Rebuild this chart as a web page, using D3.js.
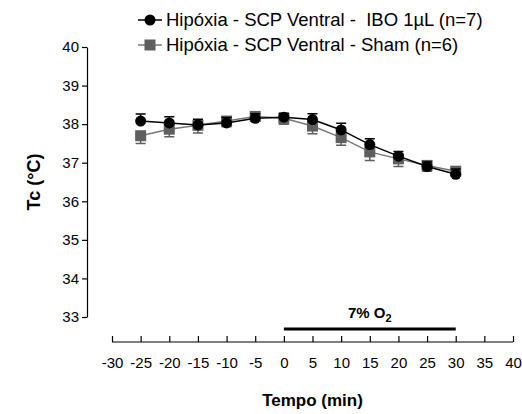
<!DOCTYPE html>
<html>
<head>
<meta charset="utf-8">
<script src="https://cdn.jsdelivr.net/npm/d3@7"></script>
<style>
  body { margin: 0; background: #fff; }
  text { font-family: "Liberation Sans", Arial, sans-serif; }
</style>
</head>
<body>
<svg id="svg1" width="522" height="414"></svg>
<script>
// time points (min)
const tempo = [-25, -20, -15, -10, -5, 0, 5, 10, 15, 20, 25, 30];
// IBO 1uL group, mean and SEM
const iboMean = [38.08, 38.03, 37.98, 38.03, 38.15, 38.18, 38.12, 37.85, 37.47, 37.17, 36.9, 36.7];
const iboSem  = [0.18, 0.16, 0.15, 0.14, 0.12, 0.1, 0.15, 0.17, 0.15, 0.12, 0.12, 0.14];
// Sham group
const shamMean = [37.7, 37.87, 37.97, 38.08, 38.2, 38.15, 37.95, 37.65, 37.28, 37.1, 36.93, 36.78];
const shamSem  = [0.2, 0.2, 0.2, 0.15, 0.12, 0.15, 0.2, 0.2, 0.22, 0.2, 0.15, 0.1];

const xTicks = [-30, -25, -20, -15, -10, -5, 0, 5, 10, 15, 20, 25, 30, 35, 40];
const yTicks = [33, 34, 35, 36, 37, 38, 39, 40];
const legendLabels = ["Hipóxia - SCP Ventral -  IBO 1µL (n=7)", "Hipóxia - SCP Ventral - Sham (n=6)"];
const hypoxia = [0, 30];

const svg1 = d3.select("#svg1");

const xScale = d3.scaleLinear().domain([-30, 40]).range([112, 513]);
const yScale = d3.scaleLinear().domain([33, 40]).range([317, 47]);

const tickFmt = d => String(d); // plain hyphen minus, no decimals

// y axis
const yAxisG = svg1.append('g')
  .attr('transform', 'translate(87,0)')
  .call(d3.axisLeft(yScale).tickValues(yTicks).tickFormat(tickFmt).tickSize(5).tickSizeOuter(0).tickPadding(3));
yAxisG.selectAll('text').attr('font-size', 15).attr('fill', '#000').attr('font-family', 'Liberation Sans, Arial, sans-serif');
yAxisG.selectAll('line, path').attr('stroke', '#000').attr('stroke-width', 1.2);

// x axis
const xAxisG = svg1.append('g')
  .attr('transform', 'translate(0,342)')
  .call(d3.axisBottom(xScale).tickValues(xTicks).tickFormat(tickFmt).tickSize(6).tickSizeOuter(0).tickPadding(9));
xAxisG.selectAll('text').attr('font-size', 15).attr('fill', '#000').attr('font-family', 'Liberation Sans, Arial, sans-serif');
xAxisG.selectAll('line, path').attr('stroke', '#000').attr('stroke-width', 1.2);
// ticks drawn upward from the baseline in the original
xAxisG.selectAll('.tick line').attr('y1', 0).attr('y2', -6);
xAxisG.select('.domain').attr('d', `M${xScale(-30)},0H${xScale(40)}`);

// axis titles
svg1.append('text')
  .attr('transform', `translate(40,${(yScale(33) + yScale(40)) / 2}) rotate(-90)`)
  .attr('text-anchor', 'middle')
  .attr('font-size', 18).attr('font-weight', 'bold')
  .text('Tc (°C)');

svg1.append('text')
  .attr('x', (xScale(-30) + xScale(40)) / 2).attr('y', 406)
  .attr('text-anchor', 'middle')
  .attr('font-size', 17).attr('font-weight', 'bold')
  .text('Tempo (min)');

// hypoxia bar
svg1.append('line')
  .attr('x1', xScale(hypoxia[0])).attr('x2', xScale(hypoxia[1]))
  .attr('y1', 329).attr('y2', 329)
  .attr('stroke', '#000').attr('stroke-width', 3);
const o2 = svg1.append('text')
  .attr('x', (xScale(hypoxia[0]) + xScale(hypoxia[1])) / 2).attr('y', 318)
  .attr('text-anchor', 'middle')
  .attr('font-size', 15).attr('font-weight', 'bold');
o2.append('tspan').text('7% O');
o2.append('tspan').attr('font-size', 11).attr('dy', 4).text('2');

const series = [
  { mean: shamMean, sem: shamSem, color: '#5f5f5f', line: '#777', shape: 'square', dir: -1 },
  { mean: iboMean, sem: iboSem, color: '#000', line: '#000', shape: 'circle', dir: 1 }
];

const lineGen = (arr) => d3.line().x((d, i) => xScale(tempo[i])).y(d => yScale(d))(arr);

series.forEach(s => {
  const g = svg1.append('g');
  g.append('path').attr('d', lineGen(s.mean))
    .attr('fill', 'none').attr('stroke', s.line).attr('stroke-width', 1.5);
  // one-sided error bars
  g.selectAll('.err').data(s.mean).enter().append('path')
    .attr('d', (d, i) => {
      const x = xScale(tempo[i]);
      const y0 = yScale(d);
      const y1 = yScale(d + s.dir * s.sem[i]);
      return `M${x},${y0}V${y1}M${x - 5},${y1}H${x + 5}`;
    })
    .attr('fill', 'none').attr('stroke', s.color).attr('stroke-width', 1.5);
  if (s.shape === 'circle') {
    g.selectAll('.pt').data(s.mean).enter().append('circle')
      .attr('cx', (d, i) => xScale(tempo[i])).attr('cy', d => yScale(d))
      .attr('r', 5.5).attr('fill', s.color);
  } else {
    g.selectAll('.pt').data(s.mean).enter().append('rect')
      .attr('x', (d, i) => xScale(tempo[i]) - 5.5).attr('y', d => yScale(d) - 5.5)
      .attr('width', 11).attr('height', 11).attr('fill', s.color);
  }
});

// legend
const legend = svg1.append('g');
const legendY = [20, 45];
[series[1], series[0]].forEach((s, i) => {
  const y = legendY[i];
  legend.append('line').attr('x1', 138).attr('x2', 162).attr('y1', y).attr('y2', y)
    .attr('stroke', s.line).attr('stroke-width', 1.5);
  if (s.shape === 'circle') {
    legend.append('circle').attr('cx', 150).attr('cy', y).attr('r', 5.5).attr('fill', s.color);
  } else {
    legend.append('rect').attr('x', 144.5).attr('y', y - 5.5).attr('width', 11).attr('height', 11).attr('fill', s.color);
  }
  legend.append('text').attr('x', 166).attr('y', y + 6)
    .attr('font-size', 18.5).style('white-space', 'pre').text(legendLabels[i]);
});
</script>
</body>
</html>
